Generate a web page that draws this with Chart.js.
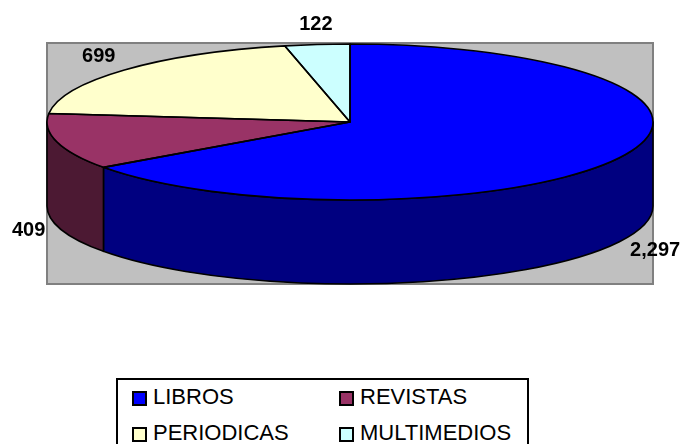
<!DOCTYPE html>
<html>
<head>
<meta charset="utf-8">
<script src="https://cdn.jsdelivr.net/npm/chart.js@4.4.1/dist/chart.umd.min.js"></script>
<style>
  html, body { margin: 0; padding: 0; background: #ffffff; overflow: hidden; }
  #wrap { position: relative; width: 681px; height: 444px; }
  #c { position: absolute; left: 0; top: 0; }
  #legend { position: absolute; left: 116px; top: 378px; width: 413px; height: 100px;
            border: 2px solid #000; box-sizing: border-box; background: #fff; }
  .item { position: absolute; font-family: "Liberation Sans", Arial, sans-serif; font-size: 22px;
          line-height: 22px; color: #000; white-space: nowrap; }
  .sw { position: absolute; width: 15px; height: 15px; border: 2px solid #000; box-sizing: border-box; }
</style>
</head>
<body>
<div id="wrap">
  <canvas id="c" width="681" height="444"></canvas>
  <div id="legend"></div>
</div>
<script>
const categories = ["LIBROS", "REVISTAS", "PERIODICAS", "MULTIMEDIOS"];
const values = [2297, 409, 699, 122];
const topColors = ["#0000FF", "#993366", "#FFFFCC", "#CCFFFF"];
const sideColors = ["#000080", "#4C1933", "#808066", "#668080"];

// geometry of the 3D pie (ellipse centre, radii, depth)
const CX = 350, CY = 122, RX = 303, RY = 78, DEPTH = 84;

const pie3d = {
  id: 'pie3d',
  beforeDraw(chart) {
    const ctx = chart.ctx;
    ctx.save();
    ctx.fillStyle = '#C0C0C0';
    ctx.fillRect(47, 43, 606, 241);
    ctx.strokeStyle = '#808080';
    ctx.lineWidth = 2;
    ctx.strokeRect(47, 43, 606, 241);
    ctx.restore();
  },
  beforeDatasetsDraw(chart) {
    const ctx = chart.ctx;
    const arcs = chart.getDatasetMeta(0).data;
    // side walls (front, visible half)
    ctx.save();
    ctx.lineWidth = 1.6;
    ctx.lineJoin = 'round';
    ctx.strokeStyle = '#000';
    arcs.forEach((a, i) => {
      const a0 = a.startAngle, a1 = a.endAngle;
      for (let k = -1; k <= 1; k++) {
        const s = Math.max(a0, 2 * Math.PI * k);
        const e = Math.min(a1, 2 * Math.PI * k + Math.PI);
        if (e > s) {
          ctx.beginPath();
          ctx.ellipse(CX, CY, RX, RY, 0, s, e, false);
          ctx.lineTo(CX + RX * Math.cos(e), CY + DEPTH + RY * Math.sin(e));
          ctx.ellipse(CX, CY + DEPTH, RX, RY, 0, e, s, true);
          ctx.closePath();
          ctx.fillStyle = sideColors[i];
          ctx.fill();
          ctx.stroke();
        }
      }
    });
    ctx.restore();
    // map Chart.js circle onto the ellipse for the top faces
    const a = arcs[0];
    const sx = RX / a.outerRadius, sy = RY / a.outerRadius;
    ctx.save();
    ctx.translate(CX, CY);
    ctx.scale(sx, sy);
    ctx.translate(-a.x, -a.y);
  },
  afterDatasetsDraw(chart) {
    const ctx = chart.ctx;
    ctx.restore();
    const arcs = chart.getDatasetMeta(0).data;
    ctx.save();
    ctx.lineWidth = 1.6;
    ctx.lineJoin = 'round';
    ctx.strokeStyle = '#000';
    arcs.forEach((a) => {
      ctx.beginPath();
      ctx.moveTo(CX, CY);
      ctx.ellipse(CX, CY, RX, RY, 0, a.startAngle, a.endAngle, false);
      ctx.closePath();
      ctx.stroke();
    });
    // data labels, placed outside along each slice's middle angle
    ctx.fillStyle = '#000';
    ctx.font = 'bold 20px "Liberation Sans", Arial, sans-serif';
    ctx.textBaseline = 'middle';
    arcs.forEach((a, i) => {
      const m = (a.startAngle + a.endAngle) / 2;
      const c = Math.cos(m), s = Math.sin(m);
      const x = CX + (RX + 12) * c;
      const y = CY + (RY + 20) * s + (s > 0 ? DEPTH : 0);
      ctx.textAlign = c > 0.3 ? 'left' : (c < -0.3 ? 'right' : 'center');
      ctx.fillText(values[i].toLocaleString('en-US'), x, y);
    });
    ctx.restore();
  }
};

new Chart(document.getElementById('c'), {
  type: 'pie',
  data: {
    labels: categories,
    datasets: [{
      data: values,
      backgroundColor: topColors,
      borderWidth: 0,
      clip: false
    }]
  },
  options: {
    responsive: false,
    animation: false,
    layout: { padding: 0 },
    plugins: { legend: { display: false }, tooltip: { enabled: false } }
  },
  plugins: [pie3d]
});

// legend (2 x 2)
const legend = document.getElementById('legend');
const colX = [130, 337], rowY = [384, 420];
categories.forEach((name, i) => {
  const col = i % 2, row = Math.floor(i / 2);
  const sw = document.createElement('div');
  sw.className = 'sw';
  sw.style.left = (colX[col] - 116) + 'px';
  sw.style.top = (rowY[row] + 5 - 378) + 'px';
  sw.style.background = topColors[i];
  legend.appendChild(sw);
  const t = document.createElement('div');
  t.className = 'item';
  t.style.left = (colX[col] + 21 - 116) + 'px';
  t.style.top = (rowY[row] - 378) + 'px';
  t.textContent = name;
  legend.appendChild(t);
});
</script>
</body>
</html>
